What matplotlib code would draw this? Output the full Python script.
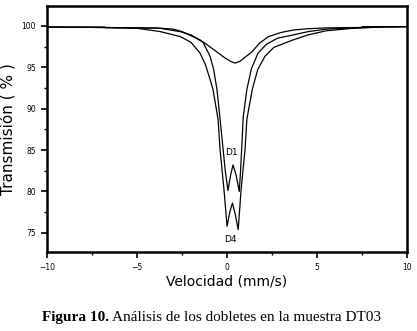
import matplotlib
matplotlib.use('Agg')
import matplotlib.pyplot as plt
import numpy as np

# curva ancha (singlete poco profundo)
vel_a = [-10, -6.8, -6.8, -4, -3, -2.5, -1.9, -1.5, -1.1, -0.6, -0.1, 0.2, 0.45,
         0.7, 1.0, 1.4, 1.8, 2.3, 3.0, 3.7, 4.5, 5.5, 7.5, 7.5, 10]
trans_a = [99.85, 99.85, 99.78, 99.75, 99.6, 99.3, 98.7, 98.3, 97.7, 96.9, 96.1, 95.7, 95.5,
           95.7, 96.2, 96.9, 97.9, 98.7, 99.2, 99.5, 99.65, 99.75, 99.8, 99.9, 99.9]

# doblete D1
vel_d1 = [-10, -6.8, -5, -3.7, -2.6, -2.0, -1.33, -0.94, -0.75, -0.56, -0.4, -0.22, -0.1,
          0.05, 0.2, 0.33, 0.5, 0.68, 0.75, 0.82, 0.9, 1.1, 1.35, 1.72, 2.2, 2.8, 3.67,
          4.5, 5.5, 7, 8.5, 10]
trans_d1 = [99.85, 99.8, 99.75, 99.7, 99.3, 98.9, 98.0, 96.3, 94.8, 92.3, 89.0, 85.1, 82.5,
            80.1, 82.0, 83.2, 82.0, 80.0, 82.5, 85.5, 89.0, 92.3, 94.8, 96.7, 97.8, 98.5, 98.9,
            99.3, 99.6, 99.75, 99.85, 99.9]

# doblete D4
vel_d4 = [-10, -6.8, -5, -3.7, -2.6, -2.0, -1.5, -1.2, -0.94, -0.78, -0.5, -0.39, -0.17,
          0.0, 0.15, 0.3, 0.45, 0.62, 0.78, 1.0, 1.1, 1.4, 1.7, 2.1, 2.6, 3.67, 4.5,
          5.5, 7, 8.5, 10]
trans_d4 = [99.85, 99.8, 99.7, 99.3, 98.7, 98.0, 96.7, 95.3, 93.5, 92.3, 88.7, 85.1, 80.2,
            75.8, 77.5, 78.6, 77.3, 75.4, 80.2, 85.1, 88.7, 92.3, 94.7, 96.3, 97.4, 98.3, 98.9,
            99.4, 99.7, 99.85, 99.9]

fig = plt.figure(figsize=(4.17, 3.31), dpi=100)
ax = fig.add_axes([0.113, 0.239, 0.863, 0.743])

ax.plot(vel_a, trans_a, color='black', linewidth=0.9)
ax.plot(vel_d1, trans_d1, color='black', linewidth=0.9)
ax.plot(vel_d4, trans_d4, color='black', linewidth=0.9)

ax.text(0.22, 84.7, 'D1', fontsize=6.5, ha='center', va='center')
ax.text(0.17, 74.2, 'D4', fontsize=6.5, ha='center', va='center')

ax.set_xlim(-10, 10)
ax.set_ylim(72.7, 102.4)
ax.set_xticks(np.arange(-10, 11, 5))
ax.set_xticks(np.arange(-7.5, 10, 5), minor=True)
ax.set_yticks(np.arange(75, 101, 5))
ax.set_yticks(np.arange(77.5, 101, 5), minor=True)
ax.tick_params(axis='both', which='major', labelsize=5.5, length=4, width=1.2,
               direction='out', pad=4)
ax.tick_params(axis='both', which='minor', length=2.5, width=1.0, direction='out')
ax.tick_params(axis='both', which='both', top=False, right=False)

ax.set_xlabel('Velocidad (mm/s)', fontsize=10, labelpad=2)
ax.set_ylabel('Transmisión ( % )', fontsize=11, labelpad=4)

for s in ['top', 'bottom', 'left', 'right']:
    ax.spines[s].set_linewidth(1.8)

# pie de figura
t1 = fig.text(0.1, 0.02, 'Figura 10.', fontsize=11, fontweight='bold',
              family='Liberation Serif', ha='left', va='bottom')
ax.annotate(' Análisis de los dobletes en la muestra DT03', xy=(1, 0), xycoords=t1,
            fontsize=11, family='Liberation Serif', ha='left', va='bottom',
            annotation_clip=False)

fig.savefig('out.png', dpi=100)
